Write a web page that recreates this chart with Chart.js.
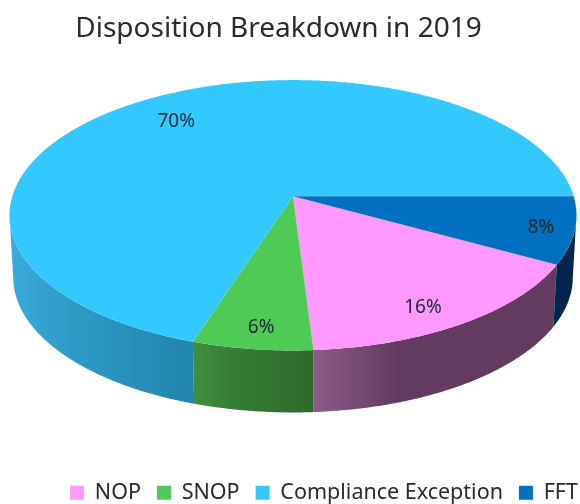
<!DOCTYPE html>
<html lang="en">
<head>
  <meta charset="UTF-8" />
  <title>Disposition Breakdown in 2019</title>
  <script src="https://cdn.jsdelivr.net/npm/chart.js"></script>
  <style>
    html, body { margin: 0; background: #fff; }
    canvas { display: block; filter: blur(0.6px); }
  </style>
</head>
<body>
  <canvas id="pieChart" width="580" height="504"></canvas>

  <script>
    const categories = ["NOP", "SNOP", "Compliance Exception", "FFT"];
    const shares = [16, 6, 70, 8];
    const topColors = ["#FF99FF", "#50CA56", "#33C9FF", "#0070C0"];
    const sideColors = [
      ["#8C5B89", "#633A60", "#633A60"],
      ["#3F8F3F", "#367C36", "#2C6A2C"],
      ["#3BABDA", "#2D9AC6", "#2085AD"],
      ["#00264D", "#00264D", "#00264D"]
    ];
    // small hand adjustments, the labels do not sit exactly on the slice middle
    const labelNudge = [[-16, 3], [3, 1], [0, 1], [4, 2]];

    // the pie is tilted with some perspective, so the centre is not the middle of the ellipse
    const persp = 0.1407;
    const stretchX = 1.8386;
    const stretchY = 0.868;
    const depth = 62;
    const bottomShrink = 0.987;
    const frontFrom = Math.asin(persp);
    const frontTo = Math.PI - frontFrom;

    function project(arc, angle, r = 1, drop = 0, shrink = 1) {
      const R = arc.outerRadius;
      const u = r * Math.cos(angle);
      const v = r * Math.sin(angle);
      const w = 1 - persp * v;
      return [arc.x + stretchX * R * u / w * shrink, arc.y + stretchY * R * v / w + drop];
    }

    function traceRim(ctx, arc, from, to, drop, shrink) {
      const steps = Math.max(2, Math.ceil(Math.abs(to - from) / 0.01));
      for (let i = 0; i <= steps; i++) {
        const p = project(arc, from + (to - from) * i / steps, 1, drop, shrink);
        ctx.lineTo(p[0], p[1]);
      }
    }

    // top face of a slice
    Chart.ArcElement.prototype.draw = function (ctx) {
      ctx.save();
      ctx.fillStyle = this.options.backgroundColor;
      ctx.beginPath();
      ctx.moveTo(this.x, this.y);
      traceRim(ctx, this, this.startAngle, this.endAngle, 0, 1);
      ctx.closePath();
      ctx.fill();
      ctx.restore();
    };

    const pie3d = {
      id: "pie3d",
      afterLayout(chart) {
        chart.titleBlock.left -= 14.5;
        chart.titleBlock.right -= 14.5;
        chart.titleBlock.top += 2;
        chart.titleBlock.bottom += 2;
        chart.legend.left += 31;
        chart.legend.right += 31;
        chart.legend.top += 117.1;
        chart.legend.bottom += 117.1;
      },
      beforeDatasetsDraw(chart) {
        const ctx = chart.ctx;
        chart.getDatasetMeta(0).data.forEach((arc, i) => {
          [0, Math.PI * 2].forEach(turn => {
            const from = Math.max(arc.startAngle - turn, frontFrom);
            const to = Math.min(arc.endAngle - turn, frontTo);
            if (from >= to) return;
            const x1 = project(arc, to)[0];
            const x2 = project(arc, from)[0];
            const grad = ctx.createLinearGradient(x1, 0, x2, 0);
            const stops = sideColors[i];
            grad.addColorStop(0, stops[0]);
            grad.addColorStop(0.35, stops[1]);
            grad.addColorStop(1, stops[2]);
            ctx.fillStyle = grad;
            ctx.beginPath();
            traceRim(ctx, arc, from, to, 0, 1);
            traceRim(ctx, arc, to, from, depth, bottomShrink);
            ctx.closePath();
            ctx.fill();
          });
        });
      },
      afterDatasetsDraw(chart) {
        const ctx = chart.ctx;
        ctx.save();
        ctx.font = "19px 'Noto Sans'";
        ctx.fillStyle = "#1B2A33";
        ctx.textAlign = "center";
        ctx.textBaseline = "middle";
        chart.getDatasetMeta(0).data.forEach((arc, i) => {
          const mid = (arc.startAngle + arc.endAngle) / 2;
          const p = project(arc, mid, shares[i] > 50 ? 0.77 : 0.87);
          ctx.fillText(shares[i] + "%", p[0] + labelNudge[i][0], p[1] + labelNudge[i][1]);
        });
        ctx.restore();
      }
    };

    new Chart(document.getElementById("pieChart"), {
      type: "pie",
      data: {
        labels: categories,
        datasets: [{
          data: shares,
          backgroundColor: topColors,
          borderWidth: 0,
          clip: false
        }]
      },
      options: {
        responsive: false,
        animation: false,
        rotation: 118.8,
        layout: { padding: { left: 6, bottom: 107.6 } },
        plugins: {
          tooltip: { enabled: false },
          title: {
            display: true,
            text: "Disposition Breakdown in 2019",
            color: "#2B2B2B",
            font: { family: "'Noto Sans'", size: 28, weight: "normal" },
            padding: { top: 10, bottom: 0 }
          },
          legend: {
            position: "bottom",
            labels: {
              color: "#2B2B2B",
              font: { family: "'Noto Sans'", size: 21.5 },
              boxWidth: 14,
              boxHeight: 14,
              padding: 16
            }
          }
        }
      },
      plugins: [pie3d]
    });
  </script>
</body>
</html>
